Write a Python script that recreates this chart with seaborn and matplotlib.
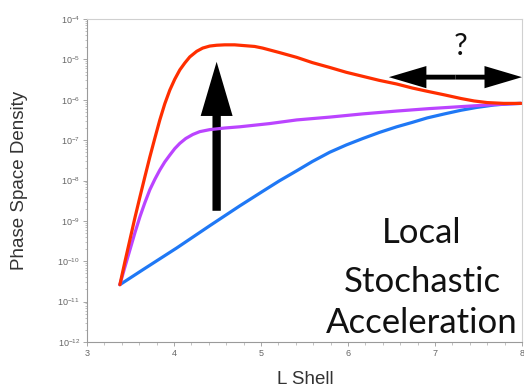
import matplotlib
matplotlib.use("Agg")
import numpy as np
import pandas as pd
import matplotlib.pyplot as plt
import seaborn as sns
from matplotlib.ticker import LogLocator, MultipleLocator, LogFormatterMathtext, NullFormatter
from matplotlib.patches import FancyArrowPatch

# Phase space density profiles versus L shell (values given as log10 of PSD)
red_L = [3.378, 3.436, 3.493, 3.550, 3.608, 3.665, 3.722, 3.780, 3.837, 3.894, 3.952,
         4.009, 4.067, 4.124, 4.181, 4.261, 4.330, 4.411, 4.491, 4.583, 4.697, 4.812,
         4.927, 5.018, 5.21, 5.41, 5.59, 5.79, 5.98, 6.17, 6.36, 6.56, 6.74, 6.91,
         7.11, 7.30, 7.45, 7.60, 7.79, 7.99]
red_log_psd = [-10.58, -10.01, -9.47, -8.93, -8.41, -7.91, -7.42, -6.95, -6.50, -6.10,
               -5.76, -5.49, -5.26, -5.09, -4.94, -4.80, -4.72, -4.67, -4.65, -4.64,
               -4.64, -4.66, -4.68, -4.72, -4.83, -4.95, -5.08, -5.20, -5.32, -5.42,
               -5.52, -5.61, -5.71, -5.79, -5.88, -5.97, -6.03, -6.07, -6.09, -6.09]

purple_L = [3.378, 3.436, 3.493, 3.550, 3.608, 3.665, 3.722, 3.780, 3.837, 3.894, 3.952,
            4.009, 4.067, 4.135, 4.216, 4.296, 4.411, 4.583, 4.755, 5.10, 5.41, 5.79,
            6.17, 6.56, 6.93, 7.30, 7.68, 7.99]
purple_log_psd = [-10.58, -10.14, -9.72, -9.30, -8.90, -8.55, -8.23, -7.97, -7.74,
                  -7.54, -7.37, -7.21, -7.08, -6.96, -6.86, -6.79, -6.74, -6.70, -6.67,
                  -6.59, -6.50, -6.43, -6.35, -6.28, -6.22, -6.17, -6.12, -6.09]

blue_L = [3.378, 3.642, 4.032, 4.411, 4.755, 5.018, 5.21, 5.41, 5.59, 5.79, 5.98, 6.17,
          6.36, 6.56, 6.74, 6.91, 7.11, 7.30, 7.48, 7.68, 7.85, 7.99]
blue_log_psd = [-10.58, -10.21, -9.67, -9.12, -8.63, -8.27, -8.01, -7.76, -7.53, -7.30,
                -7.12, -6.96, -6.81, -6.67, -6.56, -6.45, -6.35, -6.26, -6.19, -6.13,
                -6.10, -6.09]

x_ticks = [3, 4, 5, 6, 7, 8]
caption_lines = ["Local", "Stochastic", "Acceleration"]

sns.set_theme(style="white")
plt.rcParams["font.family"] = ["Liberation Sans", "DejaVu Sans"]
plt.rcParams["mathtext.fontset"] = "custom"
plt.rcParams["mathtext.rm"] = "Liberation Sans"
plt.rcParams["mathtext.it"] = "Liberation Sans:italic"
plt.rcParams["mathtext.bf"] = "Liberation Sans:bold"

W, H = 524, 391
fig = plt.figure(figsize=(W / 100, H / 100), dpi=100)
ax = fig.add_axes([87 / W, 1 - 342 / H, (522 - 87) / W, (342 - 19) / H])
ax.set_yscale("log")

curves = pd.concat([
    pd.DataFrame({"L": blue_L, "psd": 10.0 ** np.array(blue_log_psd), "curve": "blue"}),
    pd.DataFrame({"L": purple_L, "psd": 10.0 ** np.array(purple_log_psd), "curve": "purple"}),
    pd.DataFrame({"L": red_L, "psd": 10.0 ** np.array(red_log_psd), "curve": "red"}),
])
palette = {"blue": "#1f78f5", "purple": "#bb44ff", "red": "#ff2e00"}
for name in ["blue", "purple", "red"]:
    sub = curves[curves["curve"] == name]
    sns.lineplot(data=sub, x="L", y="psd", ax=ax, color=palette[name], lw=2.3,
                 solid_capstyle="round", solid_joinstyle="round", legend=False)

ax.set_xlim(3, 8)
ax.set_ylim(1e-12, 1e-4)
ax.set_xticks(x_ticks)
ax.xaxis.set_minor_locator(MultipleLocator(0.2))
ax.yaxis.set_major_locator(LogLocator(base=10, numticks=20))
ax.yaxis.set_minor_locator(LogLocator(base=10, subs=np.arange(2, 10), numticks=20))
ax.yaxis.set_major_formatter(LogFormatterMathtext())
ax.yaxis.set_minor_formatter(NullFormatter())

ax.tick_params(axis="both", which="major", direction="out", length=3, width=0.6,
               color="#999999", labelsize=6.5, labelcolor="#666666", pad=2)
ax.tick_params(axis="both", which="minor", direction="out", length=1.8, width=0.5,
               color="#aaaaaa")
ax.tick_params(axis="y", which="both", left=True)
ax.tick_params(axis="x", which="both", bottom=True)

for side in ["left", "bottom"]:
    ax.spines[side].set_color("#9a9a9a")
    ax.spines[side].set_linewidth(0.8)
for side in ["top", "right"]:
    ax.spines[side].set_color("#d0d0d0")
    ax.spines[side].set_linewidth(0.8)

ax.set_xlabel("")
ax.set_ylabel("")
fig.text(305 / W, 1 - 380 / H, "L Shell", ha="center", va="center",
         fontsize=13.5, color="#333333")
fig.text(20 / W, 1 - 180 / H, "Phase Space Density", ha="center", va="center",
         rotation=90, fontsize=13.5, color="#333333")

# Upward arrow: growth of the peak
up = FancyArrowPatch((4.49, 10 ** -8.75), (4.49, 10 ** -5.06),
                     arrowstyle="simple,head_length=3.9,head_width=2.3,tail_width=0.6",
                     mutation_scale=10, color="black", lw=0, shrinkA=0, shrinkB=0)
ax.add_patch(up)

# Double arrow: uncertain outer extent
mid = 7.235
for end in (6.47, 8.0):
    a = FancyArrowPatch((mid, 10 ** -5.44), (end, 10 ** -5.44),
                        arrowstyle="simple,head_length=2.7,head_width=1.6,tail_width=0.35",
                        mutation_scale=10, color="black", lw=0, shrinkA=0, shrinkB=0,
                        clip_on=False)
    ax.add_patch(a)
ax.text(7.29, 10 ** -4.67, "?", ha="center", va="center", fontsize=22,
        family=["Lato", "DejaVu Sans"], color="#111111")

# Caption in the lower right
caption_pos = [(422, 243), (422, 292), (422, 333)]
for line, (px, py) in zip(caption_lines, caption_pos):
    fig.text(px / W, 1 - py / H, line, ha="center", va="baseline", fontsize=25,
             family=["Lato", "DejaVu Sans"], color="#111111")

fig.savefig("out.png", dpi=100)
